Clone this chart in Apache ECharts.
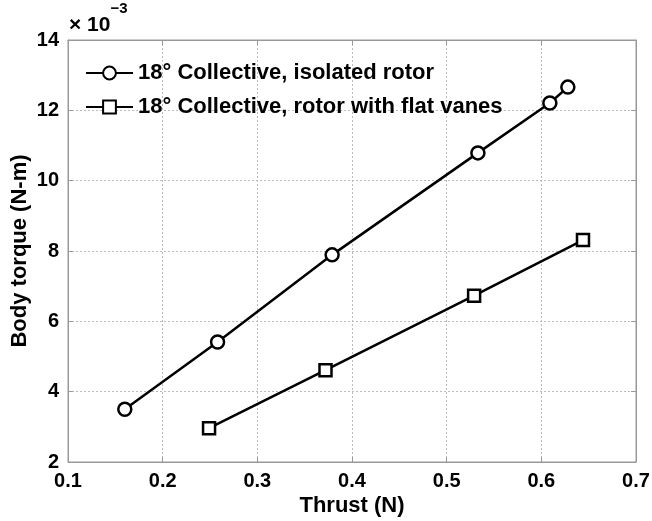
<!DOCTYPE html>
<html><head><meta charset="utf-8">
<script src="https://cdn.jsdelivr.net/npm/echarts@6/dist/echarts.min.js"></script>
<style>html,body{margin:0;padding:0;background:#fff}#c{width:652px;height:521px}</style>
</head><body><div id="c"></div>
<script>
const isoThrust = [0.160, 0.258, 0.379, 0.533, 0.609, 0.628];
const isoTorque = [3.50, 5.41, 7.89, 10.79, 12.21, 12.66];
const vaneThrust = [0.249, 0.372, 0.529, 0.644];
const vaneTorque = [2.96, 4.61, 6.73, 8.31];
const seriesNames = ['18° Collective, isolated rotor', '18° Collective, rotor with flat vanes'];
const xTicks = [0.1, 0.2, 0.3, 0.4, 0.5, 0.6, 0.7];
const yTicks = [2, 4, 6, 8, 10, 12, 14];

const font = 'Liberation Sans, Arial, sans-serif';
const chart = echarts.init(document.getElementById('c'));
const axisCommon = {
  axisLine: {show: true, lineStyle: {color: '#999', width: 1}},
  axisTick: {show: true, inside: true, length: 5, lineStyle: {color: '#999'}},
};
chart.setOption({
  backgroundColor: '#fff',
  animation: false,
  grid: {left: 68, right: 16, top: 40, bottom: 59, show: true, borderColor: '#999', borderWidth: 1,
    containLabel: false, outerBoundsMode: 'none'},
  legend: {
    orient: 'vertical', left: 80, top: 57, itemGap: 12, itemWidth: 47, itemHeight: 16,
    textStyle: {fontFamily: font, fontWeight: 'bold', fontSize: 22, color: '#000'},
    data: seriesNames
  },
  graphic: [{
    type: 'text', left: 69, top: 1,
    style: {
      text: '{a|× 10}{b|−3}', fill: '#000',
      rich: {
        a: {fontFamily: font, fontSize: 21, fontWeight: 'bold', verticalAlign: 'bottom', padding: [14, 0, 0, 0]},
        b: {fontFamily: font, fontSize: 15, fontWeight: 'bold', verticalAlign: 'top'}
      }
    }
  }],
  xAxis: [{
    type: 'value', min: xTicks[0], max: xTicks[xTicks.length - 1], interval: 0.1,
    name: 'Thrust (N)', nameLocation: 'middle', nameGap: 33, nameMoveOverlap: false,
    nameTextStyle: {fontFamily: font, fontWeight: 'bold', fontSize: 22, color: '#000'},
    axisLabel: {fontFamily: font, fontWeight: 'bold', fontSize: 20, color: '#000', margin: 9,
      formatter: v => v.toFixed(1)},
    splitLine: {show: true, lineStyle: {color: '#bbb', type: [2, 2], width: 1}},
    ...axisCommon
  }, {
    type: 'value', position: 'top', min: 0.1, max: 0.7, interval: 0.1,
    axisLabel: {show: false}, splitLine: {show: false}, ...axisCommon
  }],
  yAxis: [{
    type: 'value', min: yTicks[0], max: yTicks[yTicks.length - 1], interval: 2,
    name: 'Body torque (N-m)', nameLocation: 'middle', nameGap: 37, nameRotate: 90, nameMoveOverlap: false,
    nameTextStyle: {fontFamily: font, fontWeight: 'bold', fontSize: 22, color: '#000'},
    axisLabel: {fontFamily: font, fontWeight: 'bold', fontSize: 20, color: '#000', margin: 9},
    splitLine: {show: true, lineStyle: {color: '#bbb', type: [2, 2], width: 1}},
    ...axisCommon
  }, {
    type: 'value', position: 'right', min: 2, max: 14, interval: 2,
    axisLabel: {show: false}, splitLine: {show: false}, ...axisCommon
  }],
  series: [{
    name: seriesNames[0], type: 'line',
    data: isoThrust.map((x, i) => [x, isoTorque[i]]),
    symbol: 'circle', symbolSize: 13, showAllSymbol: true,
    lineStyle: {color: '#000', width: 2.5},
    itemStyle: {color: '#fff', borderColor: '#000', borderWidth: 2.5},
    emphasis: {disabled: true}
  }, {
    name: seriesNames[1], type: 'line',
    data: vaneThrust.map((x, i) => [x, vaneTorque[i]]),
    symbol: 'rect', symbolSize: 12, showAllSymbol: true,
    lineStyle: {color: '#000', width: 2.5},
    itemStyle: {color: '#fff', borderColor: '#000', borderWidth: 2.5},
    emphasis: {disabled: true}
  }]
});
</script></body></html>
